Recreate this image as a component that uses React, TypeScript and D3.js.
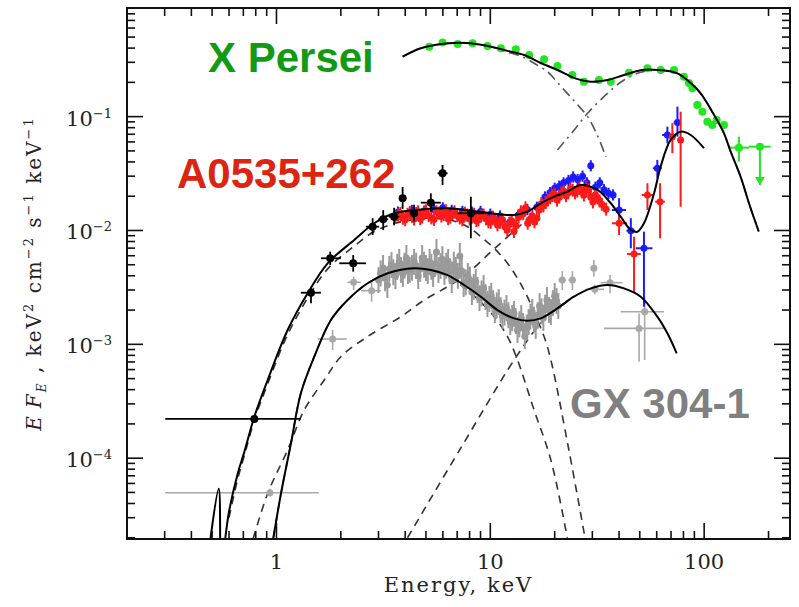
import React from "react";
import * as d3 from "d3";

// ---------- axes ----------
const xDomain: [number, number] = [0.2, 252];
const yDomain: [number, number] = [1.95e-5, 0.9];
const xTickLabels = [1, 10, 100];
const yTickLabels = [1e-1, 1e-2, 1e-3, 1e-4];

// ---------- model curves (E keV, E F_E) ----------
const xperModelE = [3.89, 4.73, 6.42, 8.26, 10.05, 12.03, 14.4, 17.2, 20.6, 24.6, 29.5, 35.3, 42.2, 50.5, 60.4, 75, 86.5, 96.3, 109.2, 123.8, 133, 148, 163, 180];
const xperModelF = [0.336, 0.399, 0.442, 0.44, 0.412, 0.378, 0.348, 0.296, 0.257, 0.219, 0.203, 0.21, 0.232, 0.256, 0.257, 0.24, 0.197, 0.16, 0.11, 0.0714, 0.0493, 0.0297, 0.01675, 0.0098];
const xperSoftE = [3.89, 4.73, 6.42, 8.26, 10.05, 12.03, 14.4, 16.5, 18.5, 20.6, 22.9, 25.5, 28.5, 31.5, 34.7];
const xperSoftF = [0.336, 0.399, 0.442, 0.44, 0.41, 0.37, 0.33, 0.285, 0.248, 0.2, 0.16, 0.128, 0.1, 0.07, 0.0445];
const xperHardE = [20.6, 24.5, 28.5, 35.3, 42.2, 50.5, 60.4, 75, 86.5, 96.3, 109.2, 123.8, 133, 148, 163, 180];
const xperHardF = [0.051, 0.075, 0.107, 0.16, 0.21, 0.245, 0.255, 0.24, 0.197, 0.16, 0.11, 0.0714, 0.0493, 0.0297, 0.01675, 0.0098];

const aModelE = [0.47, 0.537, 0.552, 0.6, 0.659, 0.707, 0.788, 0.91, 1.128, 1.399, 1.735, 2.31, 2.864, 3.55, 4.91, 6.31, 8.11, 10.05, 12.9, 14.9, 17.2, 19.9, 22.9, 26.5, 31.7, 36.6, 40.7, 45.4, 48.7, 52.3, 58.3, 62.6, 69.7, 77.6, 86.5, 99.8];
const aModelF = [1.0e-5, 5.4e-5, 1.2e-5, 3.4e-5, 7.35e-5, 1.13e-4, 2.31e-4, 4.86e-4, 1.335e-3, 2.81e-3, 5.15e-3, 8.25e-3, 1.157e-2, 1.416e-2, 1.536e-2, 1.567e-2, 1.493e-2, 1.416e-2, 1.368e-2, 1.463e-2, 1.734e-2, 1.982e-2, 2.19e-2, 2.51e-2, 2.27e-2, 1.734e-2, 1.322e-2, 1.01e-2, 9.76e-3, 1.157e-2, 2.12e-2, 3.64e-2, 6.24e-2, 7.38e-2, 6.9e-2, 5.28e-2];
const aSoftE = [0.6, 0.659, 0.707, 0.788, 0.91, 1.128, 1.399, 1.735, 2.31, 2.864, 3.55, 4.2, 4.91, 6.31, 7.83, 9.03, 10.42, 12.03, 13.4, 14.9, 16.6, 17.84, 19.2, 23.3, 28.5];
const aSoftF = [3.0e-5, 6.6e-5, 1.05e-4, 2.15e-4, 4.5e-4, 1.22e-3, 2.55e-3, 4.6e-3, 7.3e-3, 9.8e-3, 1.15e-2, 1.23e-2, 1.28e-2, 1.254e-2, 1.08e-2, 8.82e-3, 6.98e-3, 5.15e-3, 3.8e-3, 2.62e-3, 1.635e-3, 1.17e-3, 7.28e-4, 1.18e-4, 1.5e-5];
const aHardE = [0.746, 0.91, 1.128, 1.349, 1.673, 2.0, 2.668, 3.82, 4.91, 6.31, 7.83, 10.05, 12.47, 14.4, 17.2, 19.9, 22.9];
const aHardF = [1.5e-5, 4.9e-5, 1.18e-4, 2.65e-4, 4.86e-4, 7.78e-4, 1.17e-3, 1.75e-3, 2.45e-3, 3.21e-3, 4.21e-3, 6.47e-3, 9.32e-3, 1.188e-2, 1.675e-2, 1.95e-2, 2.17e-2];

const gModelE = [0.943, 1.05, 1.169, 1.3, 1.502, 1.797, 2.151, 2.668, 3.31, 4.405, 5.27, 6.31, 7.54, 9.03, 10.8, 12.92, 14.9, 17.2, 20.6, 24.6, 29.5, 35.3, 42.2, 50.5, 60.4, 67.3, 74.4];
const gModelF = [1.5e-5, 4.9e-5, 1.35e-4, 3.71e-4, 7.78e-4, 1.635e-3, 2.45e-3, 3.44e-3, 4.21e-3, 4.66e-3, 4.5e-3, 4.06e-3, 3.32e-3, 2.62e-3, 2.0e-3, 1.69e-3, 1.61e-3, 1.69e-3, 2.07e-3, 2.62e-3, 3.1e-3, 3.32e-3, 3.1e-3, 2.62e-3, 1.75e-3, 1.25e-3, 8.34e-4];
const gSoftE = [0.943, 1.05, 1.169, 1.3, 1.502, 1.797, 2.151, 2.668, 3.31, 4.405, 5.27, 6.31, 7.54, 9.03, 10.42, 12.03, 13.4, 16.02, 19.2, 22.9];
const gSoftF = [1.5e-5, 4.9e-5, 1.35e-4, 3.71e-4, 7.78e-4, 1.635e-3, 2.45e-3, 3.44e-3, 4.2e-3, 4.6e-3, 4.4e-3, 3.95e-3, 3.15e-3, 2.35e-3, 1.75e-3, 1.17e-3, 7.28e-4, 2.65e-4, 9.62e-5, 2.0e-5];
const gHardE = [4.1, 7.28, 12.92, 17.2, 20.6, 24.6];
const gHardF = [2.0e-5, 1.23e-4, 7.28e-4, 1.53e-3, 2.07e-3, 2.62e-3];

// ---------- data points ----------
// X Persei (green)
const greenE = [5.18, 5.98, 7.03, 8.26, 9.7, 11.2, 13.16, 15.2, 17.84, 20.6, 24.2, 27.4, 32.2, 36.6, 44.5, 54.3, 62.6, 72.3, 80.4, 84.9, 88.1, 92.9, 98.1, 103.5, 109.2, 114.4, 123.8];
const greenF = [0.412, 0.448, 0.435, 0.442, 0.418, 0.399, 0.391, 0.348, 0.319, 0.279, 0.232, 0.203, 0.21, 0.203, 0.243, 0.266, 0.257, 0.257, 0.2245, 0.197, 0.178, 0.1267, 0.1106, 0.0904, 0.0846, 0.0936, 0.0846];
const greenWideE = [145.4];
const greenWideELo = [130.6];
const greenWideEHi = [162];
const greenWideF = [0.0534];
const greenWideFLo = [0.0402];
const greenWideFHi = [0.0667];
const greenLimitE = [182.3];
const greenLimitELo = [162];
const greenLimitEHi = [204.5];
const greenLimitF = [0.0545];
const greenLimitTo = [0.0251];

// A0535+262 (black, soft X-ray)
const blackE = [0.788, 1.45, 1.784, 2.285, 2.816, 3.156, 3.55, 3.89, 4.4, 5.27, 5.98, 8.11];
const blackELo = [0.302, 1.3, 1.614, 1.966, 2.62, 2.99, 3.35, 3.75, 4.2, 4.73, 5.67, 7.03];
const blackEHi = [1.3, 1.614, 2.0, 2.62, 3.02, 3.33, 3.75, 4.05, 4.6, 5.87, 6.31, 9.35];
const blackF = [2.21e-4, 2.84e-3, 5.7e-3, 5.15e-3, 1.08e-2, 1.254e-2, 1.32e-2, 1.92e-2, 1.416e-2, 1.755e-2, 3.18e-2, 1.416e-2];
const blackFLo = [2.08e-4, 2.29e-3, 4.97e-3, 4.35e-3, 9.13e-3, 1.01e-2, 1.11e-2, 1.545e-2, 1.2e-2, 1.46e-2, 2.51e-2, 8.54e-3];
const blackFHi = [2.35e-4, 3.21e-3, 6.51e-3, 6.09e-3, 1.28e-2, 1.51e-2, 1.58e-2, 2.41e-2, 1.68e-2, 2.12e-2, 3.76e-2, 1.98e-2];

// A0535+262 (red)
const redE = [3.6, 3.8, 4.0, 4.2, 4.4, 4.6, 4.8, 5.0, 5.3, 5.6, 5.9, 6.2, 6.5, 6.8, 7.2, 7.6, 8.0, 8.4, 8.8, 9.3, 9.8, 10.3, 10.8, 11.4, 12.0, 12.6, 13.2, 13.9, 14.6, 15.3, 16.1, 16.9, 17.7, 18.6, 19.5, 20.5, 21.5, 22.6, 23.7, 24.9, 26.1, 27.4, 28.8, 30.2, 31.7, 33.2, 34.8];
const redF = [0.013, 0.0141, 0.0124, 0.0144, 0.0126, 0.0146, 0.0131, 0.0149, 0.0129, 0.0146, 0.0134, 0.0149, 0.0131, 0.0146, 0.0129, 0.0142, 0.0126, 0.0139, 0.0124, 0.0137, 0.0119, 0.0131, 0.0112, 0.0124, 0.0101, 0.0121, 0.011, 0.0146, 0.0158, 0.0124, 0.0119, 0.0151, 0.0164, 0.0185, 0.0202, 0.0185, 0.0214, 0.0202, 0.0232, 0.0214, 0.0236, 0.0205, 0.0227, 0.0178, 0.0193, 0.017, 0.0154];
const redE2 = [3.7, 3.9, 4.1, 4.3, 4.5, 4.7, 4.9, 5.15, 5.45, 5.75, 6.05, 6.35, 6.65, 7.0, 7.4, 7.8, 8.2, 8.6, 9.05, 9.55, 10.05, 10.55, 11.1, 11.7, 12.3, 12.9, 13.55, 14.25, 14.95, 15.7, 16.5, 17.3, 18.15, 19.05, 20.0, 21.0, 22.05, 23.15, 24.3, 25.5, 26.75, 28.1, 29.5, 30.9, 32.4];
const redF2 = [0.0137, 0.0128, 0.0139, 0.0133, 0.0141, 0.0127, 0.0143, 0.0135, 0.0125, 0.0142, 0.0138, 0.0127, 0.0141, 0.0135, 0.0124, 0.0137, 0.0131, 0.0122, 0.0134, 0.0127, 0.0118, 0.0125, 0.0118, 0.0108, 0.0116, 0.0098, 0.0131, 0.014, 0.0116, 0.0135, 0.0128, 0.0172, 0.0176, 0.0194, 0.0208, 0.0196, 0.0221, 0.0214, 0.0226, 0.0222, 0.0218, 0.024, 0.0196, 0.0205, 0.0182];
const redSparseE = [40.0, 47.0, 54.3, 62.2, 71.0, 77.6];
const redSparseELo = [37.0, 43.6, 51.0, 59.0, 68.5, 75.0];
const redSparseEHi = [43.6, 50.5, 57.9, 65.5, 73.5, 80.3];
const redSparseF = [0.01157, 0.00621, 0.0205, 0.0179, 0.0667, 0.0624];
const redSparseFLo = [0.00913, 0.00281, 0.01514, 0.00854, 0.0477, 0.01618];
const redSparseFHi = [0.01368, 0.00882, 0.026, 0.026, 0.0875, 0.1106];

// A0535+262 (blue)
const blueE = [3.7, 4.3, 4.9, 5.45, 6.0, 6.6, 7.4, 8.2, 9.0, 10.0, 11.1, 12.3, 13.5, 14.9, 16.5, 18.0, 19.0, 20.0, 21.0, 22.0, 23.2, 24.4, 25.6, 27.0, 28.3, 29.5, 31.0, 32.5, 34.0, 35.7, 37.5];
const blueF = [0.0145, 0.015, 0.0148, 0.0153, 0.0158, 0.015, 0.0147, 0.0145, 0.0147, 0.0139, 0.0134, 0.0118, 0.0136, 0.0153, 0.016, 0.0197, 0.0215, 0.0235, 0.0245, 0.0262, 0.0275, 0.0295, 0.028, 0.03, 0.0262, 0.037, 0.024, 0.0262, 0.0228, 0.0212, 0.0205];
const blueSparseE = [40.0, 45.4, 52.3, 60.4, 67.3, 75.0];
const blueSparseELo = [37.0, 43.3, 47.9, 57.5, 63.6, 72.0];
const blueSparseEHi = [43.1, 47.6, 57.3, 63.4, 71.3, 78.2];
const blueSparseF = [0.01514, 0.00996, 0.00698, 0.0352, 0.069, 0.0886];
const blueSparseFLo = [0.0119, 0.00698, 0.00214, 0.0288, 0.0584, 0.0667];
const blueSparseFHi = [0.0192, 0.01281, 0.00976, 0.0417, 0.0817, 0.1224];

// GX 304-1 (gray)
const grayE = [3.0, 3.15, 3.3, 3.45, 3.6, 3.75, 3.9, 4.05, 4.2, 4.4, 4.6, 4.8, 5.0, 5.2, 5.4, 5.6, 5.85, 6.1, 6.35, 6.6, 6.9, 7.2, 7.5, 7.85, 8.2, 8.55, 8.9, 9.3, 9.7, 10.1, 10.5, 10.95, 11.4, 11.9, 12.4, 12.9, 13.4, 13.95, 14.5, 15.1, 15.7, 16.3, 17.0, 17.7, 18.4, 19.2, 20.0, 20.8];
const grayF = [3.67e-3, 4.68e-3, 3.32e-3, 4.97e-3, 3.98e-3, 5.29e-3, 4.15e-3, 5.73e-3, 4.5e-3, 5.29e-3, 3.98e-3, 5.73e-3, 4.68e-3, 5.29e-3, 4.15e-3, 6.47e-3, 4.88e-3, 4.32e-3, 5.29e-3, 3.67e-3, 4.5e-3, 5.97e-3, 3.39e-3, 3.98e-3, 2.88e-3, 3.53e-3, 2.55e-3, 3.12e-3, 2.26e-3, 2.66e-3, 2.0e-3, 2.35e-3, 1.77e-3, 2.08e-3, 1.57e-3, 1.85e-3, 1.335e-3, 1.7e-3, 1.18e-3, 1.57e-3, 1.92e-3, 1.45e-3, 2.17e-3, 1.7e-3, 2.45e-3, 1.92e-3, 2.66e-3, 2.17e-3];
const grayE2 = [3.07, 3.22, 3.37, 3.52, 3.67, 3.82, 3.97, 4.12, 4.3, 4.5, 4.7, 4.9, 5.1, 5.3, 5.5, 5.72, 5.97, 6.22, 6.47, 6.75, 7.05, 7.35, 7.67, 8.02, 8.37, 8.72, 9.1, 9.5, 9.9, 10.3, 10.72, 11.17, 11.65, 12.15, 12.65, 13.15, 13.67, 14.22, 14.8, 15.4, 16.0, 16.65, 17.35, 18.05, 18.8, 19.6, 20.4];
const grayF2 = [4.2e-3, 3.8e-3, 4.6e-3, 4.3e-3, 4.8e-3, 4.5e-3, 4.9e-3, 4.4e-3, 4.7e-3, 4.9e-3, 4.6e-3, 5.0e-3, 4.4e-3, 4.8e-3, 5.1e-3, 4.5e-3, 5.6e-3, 4.9e-3, 4.4e-3, 5.0e-3, 4.0e-3, 4.4e-3, 3.5e-3, 3.7e-3, 3.2e-3, 3.0e-3, 2.8e-3, 2.6e-3, 2.5e-3, 2.3e-3, 2.2e-3, 2.0e-3, 1.9e-3, 1.8e-3, 1.7e-3, 1.6e-3, 1.5e-3, 1.45e-3, 1.4e-3, 1.75e-3, 1.65e-3, 1.8e-3, 1.95e-3, 2.1e-3, 2.0e-3, 2.3e-3, 2.4e-3];
const graySparseE = [0.932, 1.83, 2.295, 2.786, 21.7, 24.2, 30.5, 30.8, 36.3, 52.7, 49.6];
const graySparseELo = [0.302, 1.557, 2.151, 2.48, 20.8, 23.2, 29.5, 27.9, 32.8, 40.7, 34.0];
const graySparseEHi = [1.575, 2.128, 2.48, 3.08, 22.6, 25.2, 31.5, 34.0, 41.5, 64.9, 64.9];
const graySparseF = [4.97e-5, 1.113e-3, 3.51e-3, 2.96e-3, 3.67e-3, 3.67e-3, 4.66e-3, 3.04e-3, 3.48e-3, 1.93e-3, 1.38e-3];
const graySparseFLo = [4.6e-5, 8.91e-4, 3.0e-3, 2.37e-3, 3.0e-3, 3.0e-3, 3.93e-3, 2.75e-3, 2.81e-3, 7.28e-4, 7.03e-4];
const graySparseFHi = [5.4e-5, 1.335e-3, 3.93e-3, 3.55e-3, 4.4e-3, 4.4e-3, 5.5e-3, 3.35e-3, 4.06e-3, 2.62e-3, 1.87e-3];

// relative errors for densely sampled spectra
const greenErrX = 0.03, greenErrY = 0.07;
const redErrX = 0.024, redErrY = 0.14;
const blueErrX = 0.024, blueErrY = 0.12;
const grayErrX = 0.03, grayErrY = 0.3;

const PL = 127, PT = 8, PR = 790, PB = 539;
const SERIF = "'DejaVu Serif', serif";
const SANS = "'Liberation Sans', Arial, sans-serif";

type Pt = { e: number; f: number; el: number; eh: number; fl: number; fh: number };

function zipExplicit(E: number[], EL: number[], EH: number[], F: number[], FL: number[], FH: number[]): Pt[] {
  const n = Math.min(E.length, EL.length, EH.length, F.length, FL.length, FH.length);
  return d3.range(n).map((i) => ({ e: E[i], f: F[i], el: EL[i], eh: EH[i], fl: FL[i], fh: FH[i] }));
}
function zipRel(E: number[], F: number[], ex: number, ey: number): Pt[] {
  const n = Math.min(E.length, F.length);
  return d3.range(n).map((i) => ({
    e: E[i], f: F[i], el: E[i] / (1 + ex), eh: E[i] * (1 + ex), fl: F[i] / (1 + ey), fh: F[i] * (1 + ey),
  }));
}
function pairs(E: number[], F: number[]): [number, number][] {
  const n = Math.min(E.length, F.length);
  return d3.range(n).map((i) => [E[i], F[i]] as [number, number]);
}

export default function App() {
  const x = d3.scaleLog().domain(xDomain).range([PL, PR]);
  const y = d3.scaleLog().domain(yDomain).range([PB, PT]);
  const line = d3
    .line<[number, number]>()
    .x((d) => x(d[0]))
    .y((d) => y(d[1]))
    .curve(d3.curveCatmullRom.alpha(0.5));

  // ticks
  const xTicks: { v: number; major: boolean }[] = [];
  for (let p = -1; p <= 2; p++)
    for (let m = 1; m <= 9; m++) {
      const v = m * Math.pow(10, p);
      if (v >= xDomain[0] * 0.999 && v <= xDomain[1]) xTicks.push({ v, major: m === 1 });
    }
  const yTicks: { v: number; major: boolean }[] = [];
  for (let p = -5; p <= -1; p++)
    for (let m = 1; m <= 9; m++) {
      const v = m * Math.pow(10, p);
      if (v >= yDomain[0] && v <= yDomain[1] * 1.0001) yTicks.push({ v, major: m === 1 });
    }

  const renderPts = (pts: Pt[], color: string, r: number, sw: number, key: string) => (
    <g key={key}>
      {pts.map((p, i) => (
        <g key={i}>
          <line x1={x(p.el)} x2={x(p.eh)} y1={y(p.f)} y2={y(p.f)} stroke={color} strokeWidth={sw} />
          <line x1={x(p.e)} x2={x(p.e)} y1={y(p.fl)} y2={y(p.fh)} stroke={color} strokeWidth={sw} />
          <circle cx={x(p.e)} cy={y(p.f)} r={r} fill={color} />
        </g>
      ))}
    </g>
  );

  const gray = "#9a9a9a";
  const red = "#ff1a1a";
  const blue = "#1a1aff";
  const green = "#22e622";

  const grayDense = zipRel(grayE, grayF, grayErrX, grayErrY);
  const grayDense2 = zipRel(grayE2, grayF2, grayErrX, grayErrY);
  const graySparse = zipExplicit(graySparseE, graySparseELo, graySparseEHi, graySparseF, graySparseFLo, graySparseFHi);
  const blueDense = zipRel(blueE, blueF, blueErrX, blueErrY);
  const blueSparse = zipExplicit(blueSparseE, blueSparseELo, blueSparseEHi, blueSparseF, blueSparseFLo, blueSparseFHi);
  const redDense = zipRel(redE, redF, redErrX, redErrY);
  const redDense2 = zipRel(redE2, redF2, redErrX, redErrY);
  const redSparse = zipExplicit(redSparseE, redSparseELo, redSparseEHi, redSparseF, redSparseFLo, redSparseFHi);
  const black = zipExplicit(blackE, blackELo, blackEHi, blackF, blackFLo, blackFHi);
  const greenDense = zipRel(greenE, greenF, greenErrX, greenErrY);
  const greenWide = zipExplicit(greenWideE, greenWideELo, greenWideEHi, greenWideF, greenWideFLo, greenWideFHi);

  return (
    <svg width={799} height={607} style={{ display: "block", position: "absolute", left: 0, top: 0, background: "#fff" }}>
      <defs>
        <clipPath id="plotclip">
          <rect x={PL} y={PT} width={PR - PL} height={PB - PT} />
        </clipPath>
      </defs>
      <rect x={0} y={0} width={799} height={607} fill="#fff" />

      {/* source labels */}
      <text x={208} y={72} fontFamily={SANS} fontWeight="bold" fontSize={42} fill="#139a13">X Persei</text>
      <text x={177} y={188} fontFamily={SANS} fontWeight="bold" fontSize={42} fill="#dc2410">A0535+262</text>
      <text x={570} y={418} fontFamily={SANS} fontWeight="bold" fontSize={42} fill="#808080">GX 304-1</text>

      <g clipPath="url(#plotclip)">
        {/* components */}
        <g fill="none" stroke="#333" strokeWidth={1.6} strokeDasharray="8,6">
          <path d={line(pairs(aSoftE, aSoftF)) || ""} />
          <path d={line(pairs(aHardE, aHardF)) || ""} />
          <path d={line(pairs(gSoftE, gSoftF)) || ""} />
          <path d={line(pairs(gHardE, gHardF)) || ""} />
        </g>
        <g fill="none" stroke="#555" strokeWidth={1.6} strokeDasharray="10,5,2,5">
          <path d={line(pairs(xperSoftE, xperSoftF)) || ""} />
          <path d={line(pairs(xperHardE, xperHardF)) || ""} />
        </g>

        {/* data */}
        {renderPts(graySparse, "#a8a8a8", 3.5, 1.6, "gs")}
        {renderPts(grayDense, gray, 3.5, 2, "gd")}
        {renderPts(grayDense2, gray, 3.5, 2, "gd2")}
        {renderPts(blueDense, blue, 3.5, 2, "bd")}
        {renderPts(blueSparse, blue, 3.5, 2, "bs")}
        {renderPts(redDense, red, 3.5, 2, "rd")}
        {renderPts(redDense2, red, 3.5, 2, "rd2")}
        {renderPts(redSparse, red, 3.5, 2, "rs")}
        {renderPts(black, "#000", 4, 1.8, "k")}
        {renderPts(greenDense, green, 4, 2, "g")}
        {renderPts(greenWide, green, 4, 2, "gw")}
        {greenLimitE.map((e, i) => (
          <g key={"lim" + i}>
            <line x1={x(greenLimitELo[i])} x2={x(greenLimitEHi[i])} y1={y(greenLimitF[i])} y2={y(greenLimitF[i])} stroke={green} strokeWidth={2} />
            <line x1={x(e)} x2={x(e)} y1={y(greenLimitF[i])} y2={y(greenLimitTo[i])} stroke={green} strokeWidth={2} />
            <path
              d={`M${x(e) - 5},${y(greenLimitTo[i]) - 8} L${x(e) + 5},${y(greenLimitTo[i]) - 8} L${x(e)},${y(greenLimitTo[i])} Z`}
              fill={green}
            />
            <circle cx={x(e)} cy={y(greenLimitF[i])} r={4} fill={green} />
          </g>
        ))}

        {/* models */}
        <g fill="none" stroke="#000" strokeWidth={2}>
          <path d={line(pairs(xperModelE, xperModelF)) || ""} />
          <path d={line(pairs(aModelE, aModelF)) || ""} />
          <path d={line(pairs(gModelE, gModelF)) || ""} />
        </g>
      </g>

      {/* frame & ticks */}
      <rect x={PL} y={PT} width={PR - PL} height={PB - PT} fill="none" stroke="#111" strokeWidth={2} />
      <g stroke="#111" strokeWidth={1.6}>
        {xTicks.map((t, i) => {
          const len = t.major ? 16 : 8;
          const px = x(t.v);
          return (
            <g key={"xt" + i}>
              <line x1={px} x2={px} y1={PB} y2={PB - len} />
              <line x1={px} x2={px} y1={PT} y2={PT + len} />
            </g>
          );
        })}
        {yTicks.map((t, i) => {
          const len = t.major ? 16 : 8;
          const py = y(t.v);
          return (
            <g key={"yt" + i}>
              <line x1={PL} x2={PL + len} y1={py} y2={py} />
              <line x1={PR} x2={PR - len} y1={py} y2={py} />
            </g>
          );
        })}
      </g>

      {/* tick labels */}
      {xTickLabels.map((v) => (
        <text key={"xl" + v} x={x(v)} y={569} textAnchor="middle" fontFamily={SERIF} fontSize={21} fill="#222">
          {String(v)}
        </text>
      ))}
      {yTickLabels.map((v) => {
        const exp = Math.round(Math.log10(v));
        return (
          <text key={"yl" + v} x={112} y={y(v) + 9} textAnchor="end" fontFamily={SERIF} fontSize={21} fill="#222">
            10
            <tspan fontSize={13} dy={-8}>{"\u2212" + Math.abs(exp)}</tspan>
          </text>
        );
      })}

      {/* axis titles */}
      <text x={(PL + PR) / 2} y={592} textAnchor="middle" fontFamily={SERIF} fontSize={21} letterSpacing={2} fill="#222">
        Energy, keV
      </text>
      <text transform="translate(41,273.5) rotate(-90)" textAnchor="middle" fontFamily={SERIF} fontSize={20} letterSpacing={2} fill="#222">
        <tspan fontStyle="italic">E</tspan>
        <tspan fontStyle="italic" dx={6}>F</tspan>
        <tspan fontStyle="italic" fontSize={12} dy={5}>E</tspan>
        <tspan dy={-5}>{" , keV"}</tspan>
        <tspan fontSize={13} dy={-8}>2</tspan>
        <tspan dy={8}>{" cm"}</tspan>
        <tspan fontSize={13} dy={-8}>{"\u22122"}</tspan>
        <tspan dy={8}>{" s"}</tspan>
        <tspan fontSize={13} dy={-8}>{"\u22121"}</tspan>
        <tspan dy={8}>{" keV"}</tspan>
        <tspan fontSize={13} dy={-8}>{"\u22121"}</tspan>
      </text>
    </svg>
  );
}
